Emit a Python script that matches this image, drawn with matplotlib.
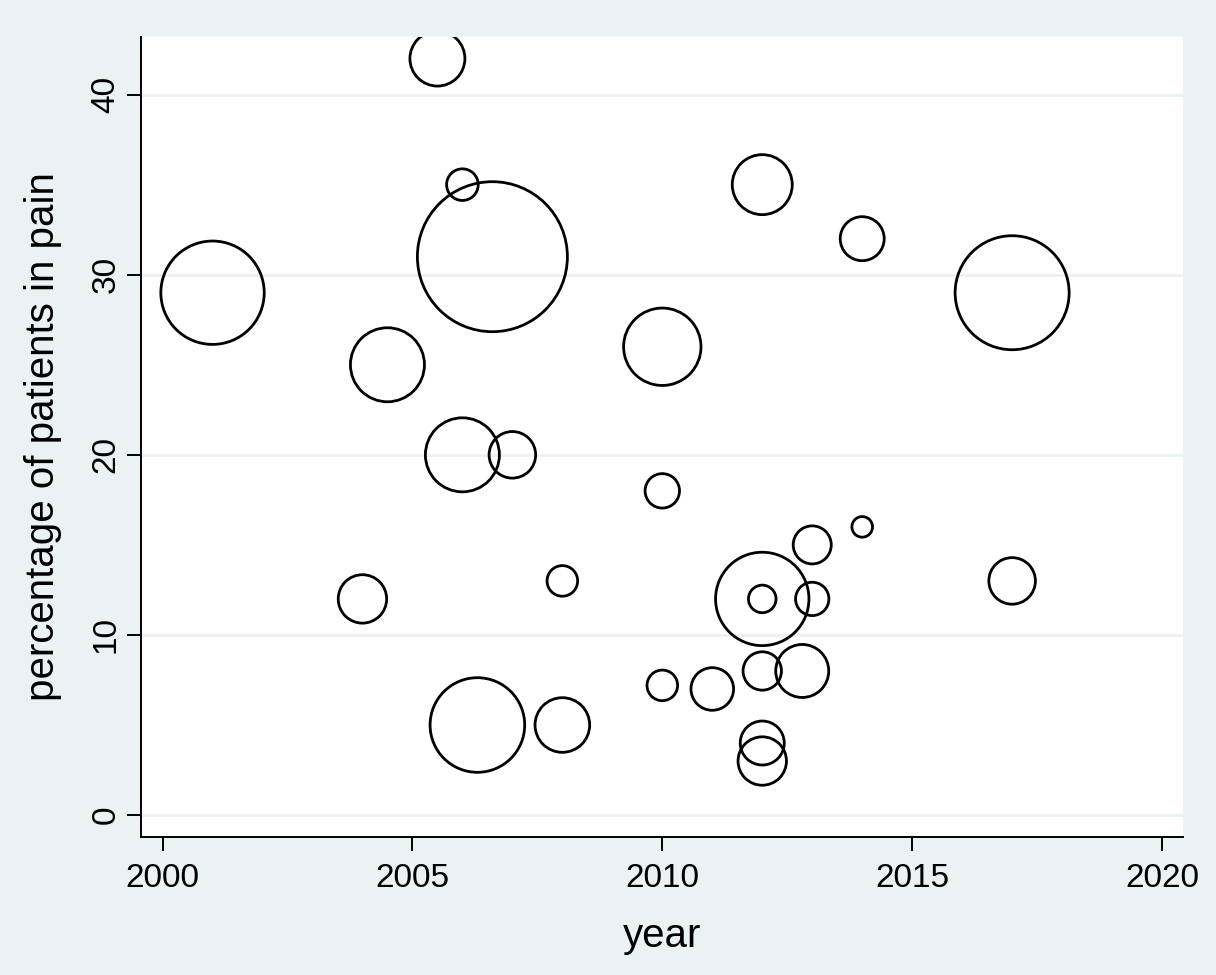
import numpy as np
import matplotlib
matplotlib.use("Agg")
import matplotlib.pyplot as plt

# Dados (ano, % de pacientes com dor, peso da bolha)
year = [2005.5, 2006.0, 2006.6, 2001.0, 2004.5, 2006.0, 2007.0, 2004.0,
        2006.3, 2008.0, 2008.0, 2010.0, 2010.0, 2010.0, 2011.0, 2012.0,
        2012.0, 2012.0, 2012.0, 2012.0, 2012.0, 2012.8, 2013.0, 2013.0,
        2014.0, 2014.0, 2017.0, 2017.0]
pain_pct = [42, 35, 31, 29, 25, 20, 20, 12,
            5, 13, 5, 26, 18, 7.2, 7, 35,
            12, 12, 8, 4, 3, 8, 15, 12,
            32, 16, 29, 13]
weight = [378, 125, 2813, 1336, 685, 685, 271, 293,
          1119, 117, 373, 749, 148, 117, 227, 450,
          1090, 95, 184, 242, 293, 351, 181, 139,
          242, 53, 1625, 271]

x_ticks = [2000, 2005, 2010, 2015, 2020]
y_ticks = [0, 10, 20, 30, 40]

# Cores no estilo s2color
bg_color = "#EAF2F3"
grid_color = "#EAF2F3"

plt.rcParams["font.family"] = ["Liberation Sans", "DejaVu Sans"]

fig = plt.figure(figsize=(12.16, 9.75), dpi=100, facecolor=bg_color)
ax = fig.add_axes([0.1160, 0.1415, 0.8569, 0.8206])
ax.set_facecolor("white")

# Bolhas: área proporcional ao peso
sizes = np.array(weight) * 4.147
ax.scatter(year, pain_pct, s=sizes, facecolors="none", edgecolors="black",
           linewidths=2.0, zorder=3)

ax.set_xlim(1999.57, 2020.42)
ax.set_ylim(-1.22, 43.2)
ax.set_xticks(x_ticks)
ax.set_yticks(y_ticks)

ax.grid(axis="y", color=grid_color, linewidth=2, zorder=0)
ax.set_axisbelow(True)

for side in ["top", "right"]:
    ax.spines[side].set_visible(False)
for side in ["left", "bottom"]:
    ax.spines[side].set_linewidth(1.4)

ax.tick_params(axis="both", length=10, width=1.4, labelsize=24)
ax.tick_params(axis="x", pad=9)
ax.tick_params(axis="y", pad=4, labelrotation=90)
for lbl in ax.get_yticklabels():
    lbl.set_va("center")

ax.set_xlabel("year", fontsize=29)
ax.set_ylabel("percentage of patients in pain", fontsize=29)
ax.xaxis.set_label_coords(0.5, -0.1375)
ax.xaxis.label.set_va("baseline")
ax.yaxis.set_label_coords(-0.094, 0.5)
ax.yaxis.label.set_va("center")

plt.savefig("out.png", dpi=100, facecolor=bg_color)
